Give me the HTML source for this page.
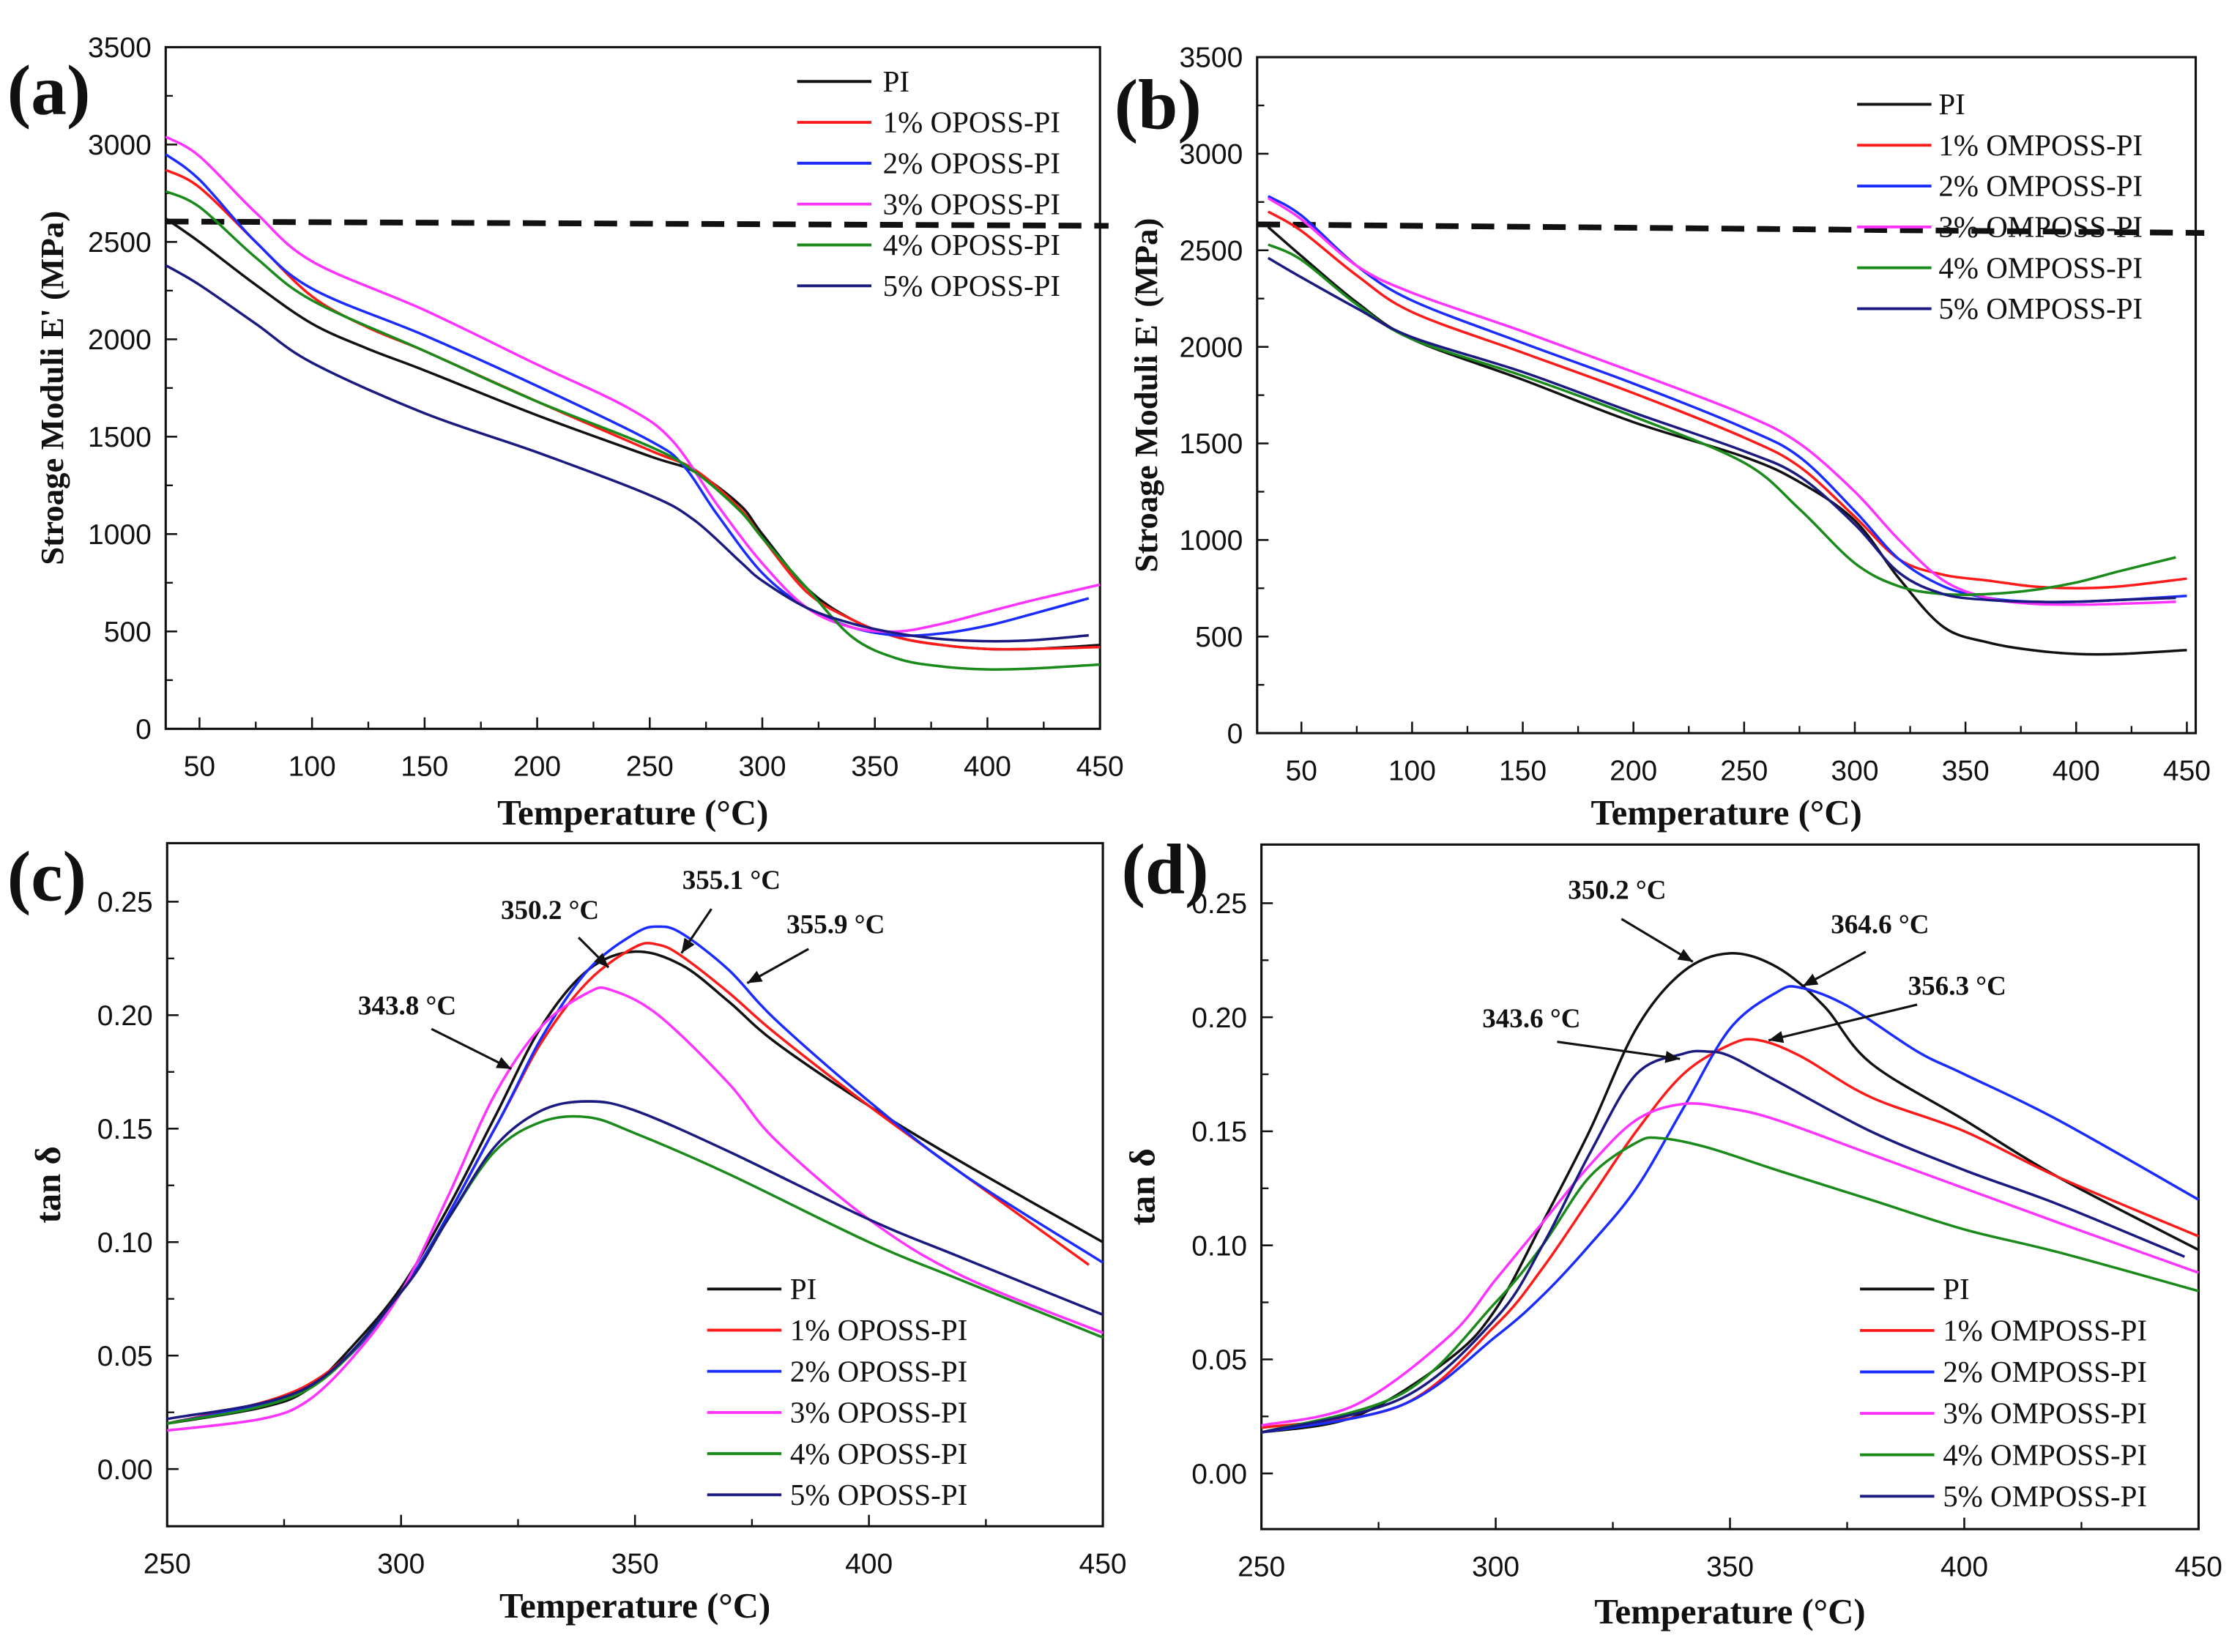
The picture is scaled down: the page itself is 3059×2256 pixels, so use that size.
<!DOCTYPE html>
<html><head><meta charset="utf-8"><style>
html,body{margin:0;padding:0;background:#fff;}
svg{display:block;}
.tk{font-family:"Liberation Sans",sans-serif;font-size:20px;fill:#111;}
.tt{font-family:"Liberation Serif",serif;font-weight:bold;fill:#111;}
.lg{font-family:"Liberation Serif",serif;font-size:21px;fill:#111;}
</style></head><body>
<svg id="chart" width="3059" height="2256" viewBox="0 0 1568 1156" preserveAspectRatio="none" xmlns="http://www.w3.org/2000/svg"></svg>
<script>
const colors=["#111111","#ff1a1a","#1a2cff","#ff33ff","#1a8a1a","#1a1a80"];
const labelsA=["PI","1% OPOSS-PI","2% OPOSS-PI","3% OPOSS-PI","4% OPOSS-PI","5% OPOSS-PI"];
const labelsB=["PI","1% OMPOSS-PI","2% OMPOSS-PI","3% OMPOSS-PI","4% OMPOSS-PI","5% OMPOSS-PI"];
const xTicksE=[50,100,150,200,250,300,350,400,450];
const yTicksE=[0,500,1000,1500,2000,2500,3000,3500];
const xTicksT=[250,300,350,400,450];
const yTicksT=[0,0.05,0.10,0.15,0.20,0.25];
const aT=[[35,50,75,100,125,150,200,250,270,290,300,320,340,360,380,400,420,450],[35,50,75,100,125,150,200,250,270,290,300,320,340,360,380,400,420,450],[35,50,75,100,150,200,250,265,280,300,320,340,360,380,400,420,445],[35,50,75,100,150,200,240,260,280,300,320,340,360,380,400,420,450],[35,50,75,100,150,200,250,270,290,300,320,340,360,380,400,420,450],[35,50,75,100,150,200,250,270,290,300,320,340,360,380,400,420,445]];
const aV=[[2620,2500,2280,2080,1950,1840,1610,1400,1320,1150,1000,720,560,470,430,410,410,430],[2870,2780,2500,2220,2060,1940,1680,1430,1330,1130,980,700,560,470,430,410,410,420],[2950,2820,2500,2260,2020,1760,1480,1350,1100,800,620,520,480,490,530,590,670],[3040,2940,2650,2400,2150,1870,1650,1480,1150,850,620,520,500,540,600,660,740],[2760,2680,2420,2200,1940,1680,1450,1320,1120,980,720,470,360,320,305,310,330],[2380,2280,2080,1880,1620,1420,1200,1070,860,760,620,540,490,460,450,455,480]];
const bT=[[35,50,75,100,150,200,250,275,300,320,340,360,380,400,420,450],[35,50,75,100,150,200,250,275,300,320,340,360,380,400,420,450],[35,50,75,100,150,200,250,275,300,320,340,360,380,400,420,450],[35,50,75,100,150,200,250,275,300,320,340,360,380,400,420,445],[35,50,75,100,150,200,250,275,300,320,340,360,380,400,420,445],[35,50,75,100,150,200,250,275,300,320,340,360,380,400,420,445]];
const bV=[[2620,2470,2230,2040,1830,1610,1430,1300,1100,800,550,470,430,410,410,430],[2700,2600,2370,2180,1970,1760,1530,1380,1120,900,820,790,760,750,760,800],[2780,2680,2420,2240,2020,1810,1580,1430,1150,900,760,700,680,680,690,710],[2770,2660,2420,2280,2080,1870,1650,1500,1250,1000,790,700,670,665,670,680],[2530,2450,2220,2040,1850,1640,1400,1160,880,760,720,720,740,780,840,910],[2460,2360,2200,2050,1870,1660,1460,1330,1080,830,720,690,680,680,690,700]];
const cT=[[250,270,280,290,300,310,320,330,340,350,360,370,380,400,420,450],[250,280,300,320,330,340,350,355,360,370,380,400,420,447],[250,280,300,320,330,340,350,355,360,370,380,400,420,450],[250,270,280,290,300,310,320,330,340,345,355,370,380,400,420,450],[250,280,300,310,320,330,340,350,370,400,420,450],[250,280,300,310,320,330,340,350,370,400,420,450]];
const cV=[[0.020,0.027,0.035,0.055,0.080,0.115,0.155,0.195,0.220,0.228,0.222,0.206,0.188,0.160,0.135,0.100],[0.020,0.037,0.078,0.150,0.188,0.215,0.230,0.231,0.226,0.210,0.192,0.160,0.130,0.090],[0.020,0.036,0.078,0.150,0.190,0.220,0.236,0.239,0.236,0.220,0.198,0.162,0.130,0.091],[0.017,0.022,0.030,0.050,0.078,0.120,0.165,0.195,0.210,0.211,0.200,0.170,0.145,0.110,0.085,0.060],[0.020,0.035,0.078,0.110,0.140,0.153,0.155,0.148,0.130,0.100,0.083,0.058],[0.022,0.036,0.078,0.110,0.142,0.158,0.162,0.158,0.140,0.110,0.093,0.068]];
const dT=[[250,270,290,300,310,320,330,340,350,360,370,380,400,420,450],[250,280,300,310,320,330,340,350,356,365,380,400,420,450],[250,280,300,310,320,330,340,350,360,365,375,390,400,420,450],[250,270,290,300,310,320,330,340,350,360,380,400,420,450],[250,280,300,310,320,330,335,345,360,380,400,420,450],[250,280,300,310,320,330,340,345,350,360,380,400,420,447]];
const dV=[[0.018,0.025,0.050,0.072,0.110,0.150,0.195,0.220,0.228,0.222,0.205,0.180,0.155,0.130,0.098],[0.020,0.030,0.065,0.090,0.120,0.150,0.175,0.188,0.190,0.183,0.165,0.150,0.130,0.104],[0.018,0.030,0.060,0.078,0.100,0.125,0.160,0.195,0.211,0.213,0.205,0.185,0.175,0.155,0.120],[0.021,0.030,0.060,0.085,0.110,0.135,0.155,0.162,0.160,0.155,0.140,0.125,0.110,0.088],[0.018,0.035,0.075,0.100,0.130,0.145,0.147,0.143,0.133,0.120,0.107,0.097,0.080],[0.018,0.033,0.068,0.100,0.140,0.175,0.184,0.185,0.183,0.172,0.150,0.133,0.118,0.095]];

const svg=document.getElementById('chart');
const NS="http://www.w3.org/2000/svg";
function mk(tag,attrs,parent){const e=document.createElementNS(NS,tag);for(const k in attrs)e.setAttribute(k,attrs[k]);(parent||svg).appendChild(e);return e;}
function smooth(pts){let d="M"+pts[0][0].toFixed(1)+","+pts[0][1].toFixed(1);for(let i=0;i<pts.length-1;i++){const p0=pts[i-1]||pts[i],p1=pts[i],p2=pts[i+1],p3=pts[i+2]||p2;const c1=[p1[0]+(p2[0]-p0[0])/6,p1[1]+(p2[1]-p0[1])/6],c2=[p2[0]-(p3[0]-p1[0])/6,p2[1]-(p3[1]-p1[1])/6];d+=" C"+c1.join(",")+" "+c2.join(",")+" "+p2.join(",");}return d;}

function panel(cfg){
  const g=mk('g',{});
  
  
  const X=v=>cfg.L+(v-cfg.x0)/(cfg.x1-cfg.x0)*(cfg.R-cfg.L);
  const Y=v=>cfg.B-(v-cfg.y0)/(cfg.y1-cfg.y0)*(cfg.B-cfg.T);
  const fr=mk('rect',{x:cfg.L,y:cfg.T,width:cfg.R-cfg.L,height:cfg.B-cfg.T,fill:"none",stroke:"#111","stroke-width":1.6},g);
  
  
  cfg.xt.forEach((v,i)=>{const x=X(v);
    mk('line',{x1:x,y1:cfg.B,x2:x,y2:cfg.B-8,stroke:"#111","stroke-width":1.3},g);
    if(i<cfg.xt.length-1){const xm=X(v+(cfg.xt[1]-cfg.xt[0])/2);mk('line',{x1:xm,y1:cfg.B,x2:xm,y2:cfg.B-5,stroke:"#111","stroke-width":1.2},g);}
    const t=mk('text',{x:x,y:cfg.B+33,"text-anchor":"middle",class:"tk"},g);t.textContent=cfg.xf(v);
    
    
  });
  cfg.yt.forEach((v,i)=>{const y=Y(v);
    mk('line',{x1:cfg.L,y1:y,x2:cfg.L+8,y2:y,stroke:"#111","stroke-width":1.3},g);
    if(i<cfg.yt.length-1){const ym=Y(v+(cfg.yt[1]-cfg.yt[0])/2);mk('line',{x1:cfg.L,y1:ym,x2:cfg.L+5,y2:ym,stroke:"#111","stroke-width":1.2},g);}
    const t=mk('text',{x:cfg.L-10,y:y+7,"text-anchor":"end",class:"tk"},g);t.textContent=cfg.yf(v);
    
    
  });
  if(cfg.dash){const d=mk('line',{x1:cfg.L,y1:cfg.dash[0],x2:cfg.R+6,y2:cfg.dash[1],stroke:"#111","stroke-width":4,"stroke-dasharray":"16,9"},g);
    
    }
  cfg.ts.forEach((ts,s)=>{const pts=ts.map((t,i)=>[+X(t).toFixed(1),+Y(cfg.vs[s][i]).toFixed(1)]);
    const p=mk('path',{d:smooth(pts),fill:"none",stroke:colors[s],"stroke-width":1.8},g);
    
    
  });
  cfg.labels.forEach((lb,i)=>{const y=cfg.lg[1]+i*cfg.lg[3];
    mk('line',{x1:cfg.lg[0],y1:y,x2:cfg.lg[0]+52,y2:y,stroke:colors[i],"stroke-width":2},g);
    const t=mk('text',{x:cfg.lg[2],y:y+7,class:"lg"},g);t.textContent=lb;
    
    
  });
  const xt=mk('text',{x:(cfg.L+cfg.R)/2,y:cfg.xty,"text-anchor":"middle",class:"tt","font-size":25},g);xt.textContent="Temperature (°C)";
  
  
  const yt=mk('text',{x:0,y:0,"text-anchor":"middle",class:"tt","font-size":cfg.ytfs,transform:`translate(${cfg.ytx},${(cfg.T+cfg.B)/2}) rotate(-90)`},g);yt.textContent=cfg.ytitle;
  
  
  const pl=mk('text',{x:cfg.pl[0],y:cfg.pl[1],class:"tt","font-size":50},g);pl.textContent=cfg.pl[2];
  
  
  (cfg.ann||[]).forEach(a=>{const t=mk('text',{x:a[0],y:a[1],class:"tt","font-size":19,"text-anchor":"middle"},g);t.textContent=a[2];
    
    
    mk('line',{x1:a[3],y1:a[4],x2:a[5],y2:a[6],stroke:"#111","stroke-width":1.6},g);
    const ang=Math.atan2(a[6]-a[4],a[5]-a[3]),h=11;
    const p1=[a[5]-h*Math.cos(ang-0.4),a[6]-h*Math.sin(ang-0.4)],p2=[a[5]-h*Math.cos(ang+0.4),a[6]-h*Math.sin(ang+0.4)];
    mk('polygon',{points:`${a[5]},${a[6]} ${p1.join(',')} ${p2.join(',')}`,fill:"#111"},g);
  });
}
const ef=v=>String(v), tf=v=>v.toFixed(2);
panel({name:"panel-a",L:116,R:770,T:33,B:510,x0:35,x1:450,y0:0,y1:3500,xt:xTicksE,yt:yTicksE,xf:ef,yf:ef,ts:aT,vs:aV,labels:labelsA,lg:[558,57,618,28.6],xty:577,ytx:44,ytfs:23,ytitle:"Stroage Moduli E' (MPa)",pl:[5,80,"(a)"],dash:[155,158]});
panel({name:"panel-b",L:880,R:1537,T:40,B:513,x0:30,x1:454,y0:0,y1:3500,xt:xTicksE,yt:yTicksE,xf:ef,yf:ef,ts:bT,vs:bV,labels:labelsB,lg:[1300,73,1357,28.6],xty:577,ytx:810,ytfs:23,ytitle:"Stroage Moduli E' (MPa)",pl:[780,90,"(b)"],dash:[157,163]});
panel({name:"panel-c",L:117,R:772,T:590,B:1068,x0:250,x1:450,y0:-0.0252,y1:0.2758,xt:xTicksT,yt:yTicksT,xf:ef,yf:tf,ts:cT,vs:cV,labels:labelsA,lg:[495,902,553,28.8],xty:1132,ytx:42,ytfs:25,ytitle:"tan δ",pl:[5,630,"(c)"],
 ann:[[385,643,"350.2 °C",405,656,426,677],[512,622,"355.1 °C",498,636,477,667],[585,653,"355.9 °C",566,664,523,688],[285,710,"343.8 °C",302,720,358,748]]});
panel({name:"panel-d",L:883,R:1539,T:591,B:1070,x0:250,x1:450,y0:-0.0244,y1:0.2757,xt:xTicksT,yt:yTicksT,xf:ef,yf:tf,ts:dT,vs:dV,labels:labelsB,lg:[1302,902,1360,29],xty:1136,ytx:808,ytfs:25,ytitle:"tan δ",pl:[785,625,"(d)"],
 ann:[[1132,629,"350.2 °C",1135,643,1185,673],[1316,653,"364.6 °C",1306,666,1262,690],[1370,696,"356.3 °C",1342,703,1238,728],[1072,719,"343.6 °C",1090,729,1176,741]]});
</script>
</body></html>
